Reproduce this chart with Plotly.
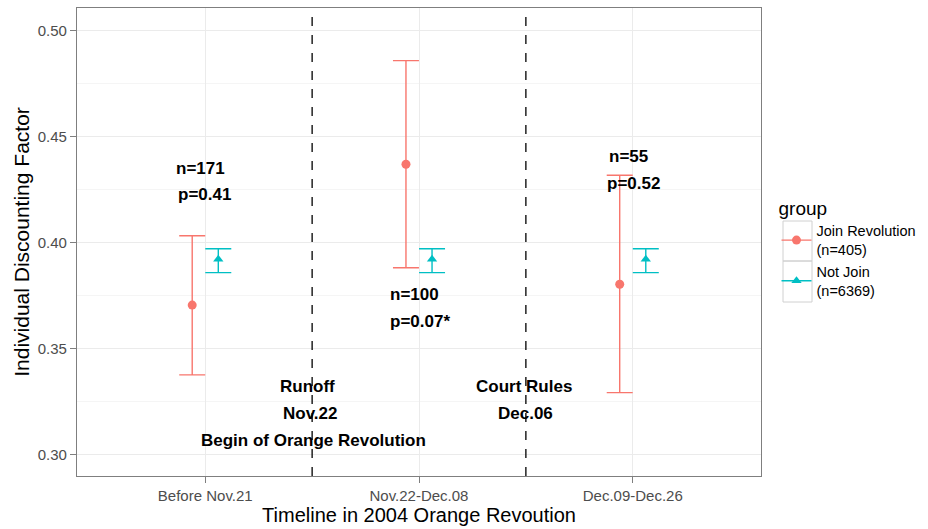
import plotly.graph_objects as go

# ---- data ----
categories = ["Before Nov.21", "Nov.22-Dec.08", "Dec.09-Dec.26"]
groups = ["Join Revolution<br>(n=405)", "Not Join<br>(n=6369)"]
join_mean = [0.3704, 0.4368, 0.3802]
join_low = [0.3375, 0.3880, 0.3291]
join_high = [0.4031, 0.4857, 0.4316]
notjoin_mean = [0.3920, 0.3920, 0.3920]
notjoin_low = [0.3857, 0.3857, 0.3857]
notjoin_high = [0.3970, 0.3970, 0.3970]

# annotation texts and their positions (x in category units, 1-based)
note_text = ["n=171", "p=0.41", "n=100", "p=0.07*", "n=55", "p=0.52",
             "Runoff", "Nov.22", "Begin of Orange Revolution",
             "Court Rules", "Dec.06"]
note_x = [0.977, 0.995, 1.98, 2.005, 2.982, 3.005,
          1.48, 1.493, 1.507, 2.49, 2.50]
note_y = [0.4349, 0.4226, 0.3756, 0.3625, 0.4407, 0.4278,
          0.3319, 0.3194, 0.3065, 0.3319, 0.3194]

event_lines = [1.5, 2.5]

yticks = [0.30, 0.35, 0.40, 0.45, 0.50]

# ---- style ----
C_JOIN = "#F8766D"
C_NOT = "#00BFC4"
DODGE = 0.061
FONT = "Liberation Sans, Arial, sans-serif"
W, H = 928, 529
ML, MR, MT, MB = 77, 167, 8, 53
PW, PH = W - ML - MR, H - MT - MB

xpos = [i + 1 for i in range(len(categories))]

fig = go.Figure()

def add_group(means, lows, highs, color, symbol, offset, name):
    xs = [x + offset for x in xpos]
    fig.add_trace(go.Scatter(
        x=xs, y=means, mode="markers", showlegend=False,
        marker=dict(color=color, size=9, symbol=symbol),
        error_y=dict(type="data", symmetric=False,
                     array=[h - m for h, m in zip(highs, means)],
                     arrayminus=[m - l for m, l in zip(means, lows)],
                     color=color, thickness=1.4, width=13),
        hoverinfo="skip"))
    # legend entry
    fig.add_trace(go.Scatter(
        x=[None], y=[None], mode="lines+markers", name=name,
        marker=dict(color=color, size=9, symbol=symbol),
        line=dict(color=color, width=1.4)))

add_group(join_mean, join_low, join_high, C_JOIN, "circle", -DODGE, groups[0])
add_group(notjoin_mean, notjoin_low, notjoin_high, C_NOT, "triangle-up", DODGE, groups[1])

for xv in event_lines:
    fig.add_shape(type="line", x0=xv, x1=xv, y0=0, y1=1, xref="x", yref="paper",
                  line=dict(color="black", width=1.3, dash="dash"), layer="above")

for t, xv, yv in zip(note_text, note_x, note_y):
    fig.add_annotation(x=xv, y=yv, xref="x", yref="y", text="<b>%s</b>" % t,
                       showarrow=False, font=dict(family=FONT, size=17, color="black"),
                       xanchor="center", yanchor="middle")

# legend key boxes (decoration, pixel -> paper)
def px2paper_x(px):
    return (px - ML) / PW

def px2paper_y(py):
    return (H - MB - py) / PH

for top, bot in [(221, 261), (261, 302)]:
    fig.add_shape(type="rect", xref="paper", yref="paper",
                  x0=px2paper_x(783), x1=px2paper_x(812),
                  y0=px2paper_y(bot), y1=px2paper_y(top),
                  line=dict(color="#d0d0d0", width=1), fillcolor="rgba(0,0,0,0)",
                  layer="below")

fig.update_layout(
    width=W, height=H,
    margin=dict(l=ML, r=MR, t=MT, b=MB, autoexpand=False),
    paper_bgcolor="white", plot_bgcolor="white",
    font=dict(family=FONT, color="black"),
    xaxis=dict(
        range=[0.4, 3.6], tickmode="array", tickvals=xpos, ticktext=categories,
        showgrid=True, gridcolor="#ebebeb", gridwidth=1,
        showline=True, linecolor="#7f7f7f", linewidth=1.2, mirror=True,
        ticks="outside", ticklen=6, tickcolor="#7f7f7f", tickwidth=1,
        tickfont=dict(family=FONT, size=15, color="#4d4d4d"),
        zeroline=False,
        title=dict(text="Timeline in 2004 Orange Revoution", standoff=3,
                   font=dict(family=FONT, size=20, color="black")),
    ),
    yaxis=dict(
        range=[0.2898, 0.5105], tickmode="array", tickvals=yticks,
        ticktext=["%.2f" % v for v in yticks],
        showgrid=True, gridcolor="#ebebeb", gridwidth=1,
        minor=dict(dtick=0.025, showgrid=True, gridcolor="#f5f5f5", gridwidth=1),
        showline=True, linecolor="#7f7f7f", linewidth=1.2, mirror=True,
        ticks="outside", ticklen=6, tickcolor="#7f7f7f", tickwidth=1,
        tickfont=dict(family=FONT, size=15, color="#4d4d4d"),
        zeroline=False,
        title=dict(text="Individual Discounting Factor", standoff=2,
                   font=dict(family=FONT, size=21, color="black")),
    ),
    legend=dict(
        title=dict(text="group", font=dict(family=FONT, size=19, color="black")),
        font=dict(family=FONT, size=14.5, color="black"),
        x=px2paper_x(776.5), xanchor="left", y=0.611, yanchor="top",
        itemwidth=30, tracegroupgap=0, bgcolor="rgba(0,0,0,0)",
    ),
)

fig.write_html("out.html")
